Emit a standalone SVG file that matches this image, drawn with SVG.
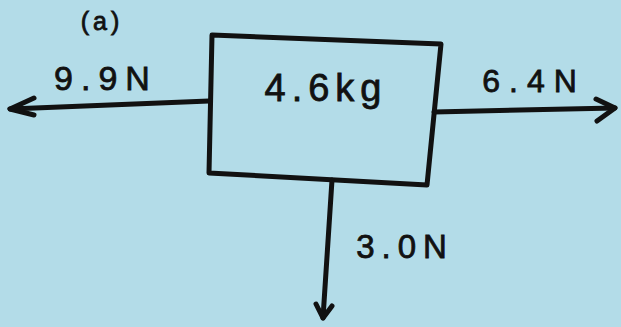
<svg xmlns="http://www.w3.org/2000/svg" width="621" height="327" viewBox="0 0 621 327">
<style>
.ln{fill:none;stroke:#111;stroke-width:5;stroke-linecap:round;stroke-linejoin:round}
.t{font-family:"Liberation Sans","DejaVu Sans",sans-serif;fill:#111;stroke:#111;stroke-width:0.8;font-weight:normal}
</style>
<rect width="621" height="327" fill="#b3dce8"/>
<text class="t" x="102" y="30" font-size="25" text-anchor="middle" letter-spacing="4">(a)</text>
<g id="mass">
<path class="ln" d="M212,35 L441,44 L427,185 L209,173 Z" fill="#b6dee9"/>
<text class="t" x="326" y="101" font-size="38" text-anchor="middle" letter-spacing="6">4.6kg</text>
</g>
<g id="connectors">
<g id="f-left">
<path class="ln" d="M209,101 L10,109"/>
<path class="ln" d="M34,98 L10,109 L34,115"/>
<text class="t" x="106" y="90" font-size="34" text-anchor="middle" letter-spacing="8">9.9N</text>
</g>
<g id="f-right">
<path class="ln" d="M434,112 L615,108"/>
<path class="ln" d="M596,99 L615,108 L597,121"/>
<text class="t" x="534" y="92" font-size="32" text-anchor="middle" letter-spacing="9">6.4N</text>
</g>
<g id="f-down">
<path class="ln" d="M332,180 L323,318"/>
<path class="ln" d="M316,304 L323,318 L332,306"/>
<text class="t" x="405" y="258" font-size="33" text-anchor="middle" letter-spacing="7">3.0N</text>
</g>
</g>
</svg>
